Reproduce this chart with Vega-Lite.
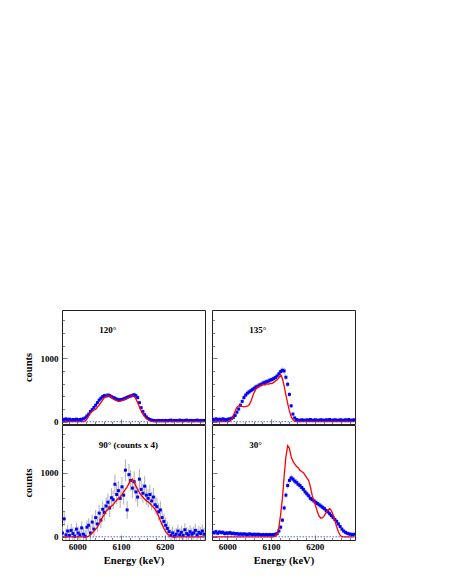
{
"$schema": "https://vega.github.io/schema/vega-lite/v6.json",
"background": "white",
"padding": {"left": 22, "top": 309, "right": 5, "bottom": 5},
"config": {
  "view": {"stroke": "#222", "strokeWidth": 1},
  "font": "Liberation Serif",
  "axis": {"domain": false, "grid": false, "tickColor": "#444", "tickWidth": 0.7, "minExtent": 0,
    "labelFont": "Liberation Serif", "labelFontWeight": "bold", "labelFontSize": 9, "labelColor": "#000",
    "labelOverlap": false, "labelFlush": false,
    "titleFont": "Liberation Serif", "titleFontWeight": "bold", "titleFontSize": 10.5, "titleColor": "#000"},
  "axisX": {"titlePadding": 4},
  "axisY": {"titlePadding": 7}
},
"datasets": {"d": [
{"p":"A","E":5966,"c":40,"e":20,"s":0},{"p":"A","E":5970,"c":35,"e":20,"s":0},{"p":"A","E":5974,"c":45,"e":20,"s":0},{"p":"A","E":5978,"c":30,"e":20,"s":0},{"p":"A","E":5982,"c":40,"e":20,"s":0},{"p":"A","E":5986,"c":25,"e":20,"s":0},{"p":"A","E":5990,"c":35,"e":20,"s":0},{"p":"A","E":5994,"c":30,"e":20,"s":0},{"p":"A","E":5998,"c":40,"e":20,"s":0},{"p":"A","E":6002,"c":30,"e":20,"s":0},{"p":"A","E":6006,"c":35,"e":20,"s":0},{"p":"A","E":6010,"c":40,"e":20,"s":0},{"p":"A","E":6014,"c":45,"e":20,"s":2},{"p":"A","E":6018,"c":60,"e":22,"s":10},{"p":"A","E":6022,"c":90,"e":24,"s":40},{"p":"A","E":6026,"c":120,"e":25,"s":90},{"p":"A","E":6030,"c":160,"e":26,"s":140},{"p":"A","E":6034,"c":190,"e":28,"s":165},{"p":"A","E":6038,"c":225,"e":28,"s":180},{"p":"A","E":6042,"c":260,"e":30,"s":195},{"p":"A","E":6046,"c":300,"e":30,"s":230},{"p":"A","E":6050,"c":340,"e":32,"s":260},{"p":"A","E":6054,"c":370,"e":32,"s":300},{"p":"A","E":6058,"c":395,"e":33,"s":345},{"p":"A","E":6062,"c":410,"e":34,"s":380},{"p":"A","E":6066,"c":405,"e":34,"s":400},{"p":"A","E":6070,"c":420,"e":34,"s":410},{"p":"A","E":6074,"c":410,"e":34,"s":405},{"p":"A","E":6078,"c":395,"e":33,"s":385},{"p":"A","E":6082,"c":380,"e":33,"s":360},{"p":"A","E":6086,"c":370,"e":33,"s":345},{"p":"A","E":6090,"c":355,"e":32,"s":330},{"p":"A","E":6094,"c":345,"e":32,"s":320},{"p":"A","E":6098,"c":345,"e":32,"s":325},{"p":"A","E":6102,"c":350,"e":32,"s":335},{"p":"A","E":6106,"c":360,"e":32,"s":345},{"p":"A","E":6110,"c":370,"e":33,"s":355},{"p":"A","E":6114,"c":385,"e":33,"s":370},{"p":"A","E":6118,"c":395,"e":33,"s":385},{"p":"A","E":6122,"c":405,"e":34,"s":405},{"p":"A","E":6126,"c":415,"e":34,"s":415},{"p":"A","E":6130,"c":425,"e":34,"s":400},{"p":"A","E":6134,"c":410,"e":34,"s":360},{"p":"A","E":6138,"c":380,"e":33,"s":300},{"p":"A","E":6142,"c":300,"e":30,"s":230},{"p":"A","E":6146,"c":220,"e":28,"s":170},{"p":"A","E":6150,"c":160,"e":26,"s":120},{"p":"A","E":6154,"c":110,"e":24,"s":80},{"p":"A","E":6158,"c":75,"e":22,"s":50},{"p":"A","E":6162,"c":50,"e":20,"s":30},{"p":"A","E":6166,"c":35,"e":20,"s":15},{"p":"A","E":6170,"c":25,"e":18,"s":5},{"p":"A","E":6174,"c":20,"e":18,"s":0},{"p":"A","E":6178,"c":15,"e":18,"s":0},{"p":"A","E":6182,"c":15,"e":18,"s":0},{"p":"A","E":6186,"c":20,"e":18,"s":0},{"p":"A","E":6190,"c":15,"e":18,"s":0},{"p":"A","E":6194,"c":20,"e":18,"s":0},{"p":"A","E":6198,"c":15,"e":18,"s":0},{"p":"A","E":6202,"c":20,"e":18,"s":0},{"p":"A","E":6206,"c":15,"e":18,"s":0},{"p":"A","E":6210,"c":20,"e":18,"s":0},{"p":"A","E":6214,"c":25,"e":18,"s":0},{"p":"A","E":6218,"c":15,"e":18,"s":0},{"p":"A","E":6222,"c":20,"e":18,"s":0},{"p":"A","E":6226,"c":20,"e":18,"s":0},{"p":"A","E":6230,"c":15,"e":18,"s":0},{"p":"A","E":6234,"c":25,"e":18,"s":0},{"p":"A","E":6238,"c":20,"e":18,"s":0},{"p":"A","E":6242,"c":15,"e":18,"s":0},{"p":"A","E":6246,"c":20,"e":18,"s":0},{"p":"A","E":6250,"c":25,"e":18,"s":0},{"p":"A","E":6254,"c":15,"e":18,"s":0},{"p":"A","E":6258,"c":20,"e":18,"s":0},{"p":"A","E":6262,"c":20,"e":18,"s":0},{"p":"A","E":6266,"c":15,"e":18,"s":0},{"p":"A","E":6270,"c":20,"e":18,"s":0},{"p":"A","E":6274,"c":25,"e":18,"s":0},{"p":"A","E":6278,"c":15,"e":18,"s":0},{"p":"A","E":6282,"c":20,"e":18,"s":0},{"p":"A","E":6286,"c":15,"e":18,"s":0},{"p":"A","E":6290,"c":20,"e":18,"s":0},
{"p":"B","E":5966,"c":40,"e":20,"s":0},{"p":"B","E":5970,"c":30,"e":20,"s":0},{"p":"B","E":5974,"c":45,"e":20,"s":0},{"p":"B","E":5978,"c":35,"e":20,"s":0},{"p":"B","E":5982,"c":40,"e":20,"s":0},{"p":"B","E":5986,"c":30,"e":20,"s":0},{"p":"B","E":5990,"c":45,"e":20,"s":0},{"p":"B","E":5994,"c":35,"e":20,"s":0},{"p":"B","E":5998,"c":30,"e":20,"s":0},{"p":"B","E":6002,"c":40,"e":20,"s":0},{"p":"B","E":6006,"c":45,"e":20,"s":10},{"p":"B","E":6010,"c":55,"e":22,"s":40},{"p":"B","E":6014,"c":70,"e":24,"s":100},{"p":"B","E":6018,"c":100,"e":25,"s":170},{"p":"B","E":6022,"c":150,"e":26,"s":225},{"p":"B","E":6026,"c":200,"e":28,"s":250},{"p":"B","E":6030,"c":260,"e":30,"s":250},{"p":"B","E":6034,"c":320,"e":32,"s":240},{"p":"B","E":6038,"c":380,"e":34,"s":235},{"p":"B","E":6042,"c":420,"e":35,"s":240},{"p":"B","E":6046,"c":450,"e":36,"s":245},{"p":"B","E":6050,"c":470,"e":37,"s":265},{"p":"B","E":6054,"c":490,"e":38,"s":320},{"p":"B","E":6058,"c":510,"e":38,"s":400},{"p":"B","E":6062,"c":530,"e":39,"s":470},{"p":"B","E":6066,"c":550,"e":40,"s":520},{"p":"B","E":6070,"c":560,"e":40,"s":545},{"p":"B","E":6074,"c":580,"e":41,"s":560},{"p":"B","E":6078,"c":590,"e":41,"s":575},{"p":"B","E":6082,"c":610,"e":42,"s":590},{"p":"B","E":6086,"c":620,"e":42,"s":580},{"p":"B","E":6090,"c":630,"e":43,"s":600},{"p":"B","E":6094,"c":640,"e":43,"s":590},{"p":"B","E":6098,"c":655,"e":44,"s":605},{"p":"B","E":6102,"c":665,"e":44,"s":600},{"p":"B","E":6106,"c":680,"e":45,"s":620},{"p":"B","E":6110,"c":695,"e":45,"s":640},{"p":"B","E":6114,"c":720,"e":46,"s":660},{"p":"B","E":6118,"c":755,"e":47,"s":690},{"p":"B","E":6122,"c":790,"e":48,"s":740},{"p":"B","E":6126,"c":810,"e":48,"s":680},{"p":"B","E":6130,"c":800,"e":48,"s":560},{"p":"B","E":6134,"c":700,"e":45,"s":420},{"p":"B","E":6138,"c":590,"e":42,"s":290},{"p":"B","E":6142,"c":430,"e":36,"s":170},{"p":"B","E":6146,"c":250,"e":30,"s":80},{"p":"B","E":6150,"c":120,"e":25,"s":30},{"p":"B","E":6154,"c":60,"e":22,"s":10},{"p":"B","E":6158,"c":35,"e":20,"s":0},{"p":"B","E":6162,"c":25,"e":20,"s":0},{"p":"B","E":6166,"c":20,"e":20,"s":0},{"p":"B","E":6170,"c":30,"e":20,"s":0},{"p":"B","E":6174,"c":25,"e":20,"s":0},{"p":"B","E":6178,"c":20,"e":20,"s":0},{"p":"B","E":6182,"c":30,"e":20,"s":0},{"p":"B","E":6186,"c":25,"e":20,"s":0},{"p":"B","E":6190,"c":35,"e":20,"s":0},{"p":"B","E":6194,"c":20,"e":20,"s":0},{"p":"B","E":6198,"c":25,"e":20,"s":0},{"p":"B","E":6202,"c":30,"e":20,"s":0},{"p":"B","E":6206,"c":20,"e":20,"s":0},{"p":"B","E":6210,"c":25,"e":20,"s":0},{"p":"B","E":6214,"c":30,"e":20,"s":0},{"p":"B","E":6218,"c":25,"e":20,"s":0},{"p":"B","E":6222,"c":20,"e":20,"s":0},{"p":"B","E":6226,"c":30,"e":20,"s":0},{"p":"B","E":6230,"c":25,"e":20,"s":0},{"p":"B","E":6234,"c":35,"e":20,"s":0},{"p":"B","E":6238,"c":20,"e":20,"s":0},{"p":"B","E":6242,"c":25,"e":20,"s":0},{"p":"B","E":6246,"c":30,"e":20,"s":0},{"p":"B","E":6250,"c":25,"e":20,"s":0},{"p":"B","E":6254,"c":20,"e":20,"s":0},{"p":"B","E":6258,"c":30,"e":20,"s":0},{"p":"B","E":6262,"c":25,"e":20,"s":0},{"p":"B","E":6266,"c":20,"e":20,"s":0},{"p":"B","E":6270,"c":30,"e":20,"s":0},{"p":"B","E":6274,"c":25,"e":20,"s":0},{"p":"B","E":6278,"c":35,"e":20,"s":0},{"p":"B","E":6282,"c":20,"e":20,"s":0},{"p":"B","E":6286,"c":25,"e":20,"s":0},{"p":"B","E":6290,"c":30,"e":20,"s":0},
{"p":"C","E":5966,"c":60,"e":100,"s":0},{"p":"C","E":5970,"c":280,"e":110,"s":0},{"p":"C","E":5974,"c":30,"e":100,"s":0},{"p":"C","E":5978,"c":90,"e":100,"s":0},{"p":"C","E":5982,"c":20,"e":100,"s":0},{"p":"C","E":5986,"c":100,"e":100,"s":0},{"p":"C","E":5990,"c":50,"e":100,"s":0},{"p":"C","E":5994,"c":10,"e":100,"s":0},{"p":"C","E":5998,"c":120,"e":100,"s":0},{"p":"C","E":6002,"c":60,"e":100,"s":0},{"p":"C","E":6006,"c":30,"e":100,"s":0},{"p":"C","E":6010,"c":140,"e":100,"s":0},{"p":"C","E":6014,"c":40,"e":100,"s":0},{"p":"C","E":6018,"c":10,"e":100,"s":0},{"p":"C","E":6022,"c":150,"e":105,"s":0},{"p":"C","E":6026,"c":180,"e":110,"s":10},{"p":"C","E":6030,"c":60,"e":110,"s":30},{"p":"C","E":6034,"c":230,"e":115,"s":60},{"p":"C","E":6038,"c":120,"e":115,"s":90},{"p":"C","E":6042,"c":300,"e":120,"s":120},{"p":"C","E":6046,"c":200,"e":120,"s":150},{"p":"C","E":6050,"c":370,"e":125,"s":200},{"p":"C","E":6054,"c":260,"e":125,"s":260},{"p":"C","E":6058,"c":430,"e":130,"s":310},{"p":"C","E":6062,"c":380,"e":130,"s":350},{"p":"C","E":6066,"c":480,"e":135,"s":400},{"p":"C","E":6070,"c":540,"e":140,"s":430},{"p":"C","E":6074,"c":450,"e":140,"s":460},{"p":"C","E":6078,"c":610,"e":145,"s":480},{"p":"C","E":6082,"c":580,"e":145,"s":500},{"p":"C","E":6086,"c":820,"e":155,"s":540},{"p":"C","E":6090,"c":660,"e":150,"s":570},{"p":"C","E":6094,"c":720,"e":150,"s":600},{"p":"C","E":6098,"c":600,"e":150,"s":620},{"p":"C","E":6102,"c":780,"e":155,"s":660},{"p":"C","E":6106,"c":650,"e":150,"s":700},{"p":"C","E":6110,"c":1040,"e":170,"s":740},{"p":"C","E":6114,"c":420,"e":140,"s":780},{"p":"C","E":6118,"c":970,"e":165,"s":830},{"p":"C","E":6122,"c":880,"e":160,"s":880},{"p":"C","E":6126,"c":760,"e":155,"s":900},{"p":"C","E":6130,"c":860,"e":160,"s":860},{"p":"C","E":6134,"c":700,"e":150,"s":790},{"p":"C","E":6138,"c":620,"e":150,"s":740},{"p":"C","E":6142,"c":900,"e":160,"s":690},{"p":"C","E":6146,"c":740,"e":155,"s":650},{"p":"C","E":6150,"c":680,"e":150,"s":620},{"p":"C","E":6154,"c":790,"e":155,"s":590},{"p":"C","E":6158,"c":650,"e":150,"s":560},{"p":"C","E":6162,"c":600,"e":145,"s":545},{"p":"C","E":6166,"c":660,"e":150,"s":520},{"p":"C","E":6170,"c":560,"e":145,"s":490},{"p":"C","E":6174,"c":620,"e":145,"s":460},{"p":"C","E":6178,"c":500,"e":140,"s":430},{"p":"C","E":6182,"c":470,"e":140,"s":380},{"p":"C","E":6186,"c":390,"e":135,"s":320},{"p":"C","E":6190,"c":420,"e":135,"s":250},{"p":"C","E":6194,"c":300,"e":125,"s":190},{"p":"C","E":6198,"c":240,"e":120,"s":130},{"p":"C","E":6202,"c":180,"e":115,"s":80},{"p":"C","E":6206,"c":130,"e":110,"s":45},{"p":"C","E":6210,"c":80,"e":105,"s":20},{"p":"C","E":6214,"c":20,"e":100,"s":5},{"p":"C","E":6218,"c":60,"e":100,"s":0},{"p":"C","E":6222,"c":10,"e":100,"s":0},{"p":"C","E":6226,"c":40,"e":100,"s":0},{"p":"C","E":6230,"c":90,"e":100,"s":0},{"p":"C","E":6234,"c":30,"e":100,"s":0},{"p":"C","E":6238,"c":70,"e":100,"s":0},{"p":"C","E":6242,"c":20,"e":100,"s":0},{"p":"C","E":6246,"c":110,"e":100,"s":0},{"p":"C","E":6250,"c":50,"e":100,"s":0},{"p":"C","E":6254,"c":30,"e":100,"s":0},{"p":"C","E":6258,"c":80,"e":100,"s":0},{"p":"C","E":6262,"c":40,"e":100,"s":0},{"p":"C","E":6266,"c":60,"e":100,"s":0},{"p":"C","E":6270,"c":100,"e":100,"s":0},{"p":"C","E":6274,"c":30,"e":100,"s":0},{"p":"C","E":6278,"c":70,"e":100,"s":0},{"p":"C","E":6282,"c":50,"e":100,"s":0},{"p":"C","E":6286,"c":90,"e":100,"s":0},{"p":"C","E":6290,"c":40,"e":100,"s":0},
{"p":"D","E":5966,"c":70,"e":35,"s":0},{"p":"D","E":5970,"c":60,"e":35,"s":0},{"p":"D","E":5974,"c":80,"e":35,"s":0},{"p":"D","E":5978,"c":55,"e":35,"s":0},{"p":"D","E":5982,"c":75,"e":35,"s":0},{"p":"D","E":5986,"c":65,"e":35,"s":0},{"p":"D","E":5990,"c":70,"e":35,"s":0},{"p":"D","E":5994,"c":50,"e":35,"s":0},{"p":"D","E":5998,"c":60,"e":35,"s":0},{"p":"D","E":6002,"c":55,"e":35,"s":0},{"p":"D","E":6006,"c":65,"e":35,"s":0},{"p":"D","E":6010,"c":50,"e":35,"s":0},{"p":"D","E":6014,"c":55,"e":35,"s":0},{"p":"D","E":6018,"c":45,"e":32,"s":0},{"p":"D","E":6022,"c":50,"e":32,"s":0},{"p":"D","E":6026,"c":40,"e":30,"s":0},{"p":"D","E":6030,"c":45,"e":30,"s":0},{"p":"D","E":6034,"c":40,"e":30,"s":0},{"p":"D","E":6038,"c":45,"e":30,"s":0},{"p":"D","E":6042,"c":40,"e":30,"s":0},{"p":"D","E":6046,"c":35,"e":30,"s":0},{"p":"D","E":6050,"c":45,"e":30,"s":0},{"p":"D","E":6054,"c":40,"e":30,"s":0},{"p":"D","E":6058,"c":35,"e":30,"s":0},{"p":"D","E":6062,"c":40,"e":30,"s":0},{"p":"D","E":6066,"c":35,"e":30,"s":0},{"p":"D","E":6070,"c":40,"e":30,"s":0},{"p":"D","E":6074,"c":35,"e":30,"s":0},{"p":"D","E":6078,"c":30,"e":30,"s":0},{"p":"D","E":6082,"c":35,"e":30,"s":0},{"p":"D","E":6086,"c":30,"e":30,"s":0},{"p":"D","E":6090,"c":35,"e":30,"s":0},{"p":"D","E":6094,"c":30,"e":30,"s":0},{"p":"D","E":6098,"c":35,"e":30,"s":0},{"p":"D","E":6102,"c":30,"e":30,"s":0},{"p":"D","E":6106,"c":35,"e":30,"s":0},{"p":"D","E":6110,"c":40,"e":30,"s":10},{"p":"D","E":6114,"c":50,"e":30,"s":40},{"p":"D","E":6118,"c":90,"e":32,"s":150},{"p":"D","E":6122,"c":150,"e":34,"s":350},{"p":"D","E":6126,"c":260,"e":38,"s":600},{"p":"D","E":6130,"c":450,"e":42,"s":950},{"p":"D","E":6134,"c":650,"e":46,"s":1250},{"p":"D","E":6138,"c":800,"e":50,"s":1420},{"p":"D","E":6142,"c":880,"e":52,"s":1380},{"p":"D","E":6146,"c":920,"e":52,"s":1250},{"p":"D","E":6150,"c":900,"e":52,"s":1180},{"p":"D","E":6154,"c":870,"e":52,"s":1140},{"p":"D","E":6158,"c":850,"e":50,"s":1100},{"p":"D","E":6162,"c":820,"e":50,"s":1080},{"p":"D","E":6166,"c":800,"e":50,"s":1040},{"p":"D","E":6170,"c":770,"e":48,"s":1020},{"p":"D","E":6174,"c":740,"e":48,"s":1000},{"p":"D","E":6178,"c":700,"e":47,"s":960},{"p":"D","E":6182,"c":670,"e":46,"s":920},{"p":"D","E":6186,"c":640,"e":45,"s":880},{"p":"D","E":6190,"c":600,"e":44,"s":780},{"p":"D","E":6194,"c":580,"e":43,"s":650},{"p":"D","E":6198,"c":560,"e":42,"s":560},{"p":"D","E":6202,"c":540,"e":42,"s":480},{"p":"D","E":6206,"c":520,"e":41,"s":390},{"p":"D","E":6210,"c":500,"e":40,"s":320},{"p":"D","E":6214,"c":480,"e":40,"s":290},{"p":"D","E":6218,"c":460,"e":39,"s":300},{"p":"D","E":6222,"c":440,"e":38,"s":330},{"p":"D","E":6226,"c":410,"e":37,"s":380},{"p":"D","E":6230,"c":390,"e":36,"s":420},{"p":"D","E":6234,"c":360,"e":35,"s":440},{"p":"D","E":6238,"c":330,"e":34,"s":410},{"p":"D","E":6242,"c":300,"e":33,"s":340},{"p":"D","E":6246,"c":270,"e":32,"s":250},{"p":"D","E":6250,"c":240,"e":31,"s":160},{"p":"D","E":6254,"c":200,"e":30,"s":80},{"p":"D","E":6258,"c":160,"e":28,"s":25},{"p":"D","E":6262,"c":120,"e":26,"s":0},{"p":"D","E":6266,"c":90,"e":25,"s":0},{"p":"D","E":6270,"c":70,"e":24,"s":0},{"p":"D","E":6274,"c":55,"e":24,"s":0},{"p":"D","E":6278,"c":45,"e":24,"s":0},{"p":"D","E":6282,"c":40,"e":24,"s":0},{"p":"D","E":6286,"c":35,"e":24,"s":0},{"p":"D","E":6290,"c":40,"e":24,"s":0}
]},
"columns": 2,
"align": "each",
"bounds": "flush",
"spacing": {"row": 1, "column": 7},
"concat": [
 {"width": 143, "height": 114, "resolve": {"axis": {"x": "independent", "y": "independent"}},
  "layer": [
   {"data": {"name": "d"}, "transform": [{"filter": "datum.p == 'A'"}],
    "mark": {"type": "errorbar", "color": "#9a9a9a", "thickness": 0.8, "clip": true},
    "encoding": {"x": {"field": "E", "type": "quantitative", "scale": {"domain": [5965, 6292], "nice": false, "zero": false}, "axis": {"orient": "bottom", "values": [6000, 6100, 6200], "tickSize": -5, "labels": false, "title": null}},
     "y": {"field": "c", "type": "quantitative", "scale": {"domain": [-36, 1760], "nice": false, "zero": false}, "axis": {"orient": "left", "values": [0, 1000], "format": "d", "tickSize": -5, "labelPadding": 9, "title": "counts"}},
     "yError": {"field": "e"}}},
   {"data": {"name": "d"}, "transform": [{"filter": "datum.p == 'A'"}],
    "mark": {"type": "square", "color": "#0000ff", "size": 9, "opacity": 1, "clip": true},
    "encoding": {"x": {"field": "E", "type": "quantitative", "axis": {"orient": "bottom", "values": [5980,6020,6040,6060,6080,6120,6140,6160,6180,6220,6240,6260,6280], "tickSize": -2.5, "labels": false, "title": null}},
     "y": {"field": "c", "type": "quantitative", "axis": {"orient": "left", "values": [200,400,600,800,1200,1400,1600], "tickSize": -2.5, "labels": false, "title": null}}}},
   {"data": {"name": "d"}, "transform": [{"filter": "datum.p == 'A'"}],
    "mark": {"type": "line", "color": "#ff0000", "strokeWidth": 1.3, "clip": true},
    "encoding": {"x": {"field": "E", "type": "quantitative", "axis": null}, "y": {"field": "s", "type": "quantitative", "axis": null}}},
   {"data": {"values": [{"p": "A", "label": "120°"}]},
    "mark": {"type": "rule", "color": "#3030ff", "strokeDash": [1.5, 1.5], "strokeWidth": 0.8}, "encoding": {"y": {"datum": 0, "axis": null}}},
   {"data": {"values": [{"p": "A", "label": "120°"}]},
    "mark": {"type": "text", "align": "left", "baseline": "middle", "fontSize": 9, "fontWeight": "bold", "font": "Liberation Serif", "fill": "#000"},
    "encoding": {"x": {"datum": 6050, "axis": null}, "y": {"datum": 1440, "axis": null}, "text": {"field": "label"}}}
  ]},
 {"width": 143, "height": 114, "resolve": {"axis": {"x": "independent", "y": "independent"}},
  "layer": [
   {"data": {"name": "d"}, "transform": [{"filter": "datum.p == 'B'"}],
    "mark": {"type": "errorbar", "color": "#9a9a9a", "thickness": 0.8, "clip": true},
    "encoding": {"x": {"field": "E", "type": "quantitative", "scale": {"domain": [5965, 6292], "nice": false, "zero": false}, "axis": {"orient": "bottom", "values": [6000, 6100, 6200], "tickSize": -5, "labels": false, "title": null}},
     "y": {"field": "c", "type": "quantitative", "scale": {"domain": [-36, 1760], "nice": false, "zero": false}, "axis": {"orient": "left", "values": [0, 1000], "tickSize": -5, "labels": false, "title": null}},
     "yError": {"field": "e"}}},
   {"data": {"name": "d"}, "transform": [{"filter": "datum.p == 'B'"}],
    "mark": {"type": "square", "color": "#0000ff", "size": 9, "opacity": 1, "clip": true},
    "encoding": {"x": {"field": "E", "type": "quantitative", "axis": {"orient": "bottom", "values": [5980,6020,6040,6060,6080,6120,6140,6160,6180,6220,6240,6260,6280], "tickSize": -2.5, "labels": false, "title": null}},
     "y": {"field": "c", "type": "quantitative", "axis": {"orient": "left", "values": [200,400,600,800,1200,1400,1600], "tickSize": -2.5, "labels": false, "title": null}}}},
   {"data": {"name": "d"}, "transform": [{"filter": "datum.p == 'B'"}],
    "mark": {"type": "line", "color": "#ff0000", "strokeWidth": 1.3, "clip": true},
    "encoding": {"x": {"field": "E", "type": "quantitative", "axis": null}, "y": {"field": "s", "type": "quantitative", "axis": null}}},
   {"data": {"values": [{"p": "B", "label": "135°"}]},
    "mark": {"type": "rule", "color": "#3030ff", "strokeDash": [1.5, 1.5], "strokeWidth": 0.8}, "encoding": {"y": {"datum": 0, "axis": null}}},
   {"data": {"values": [{"p": "B", "label": "135°"}]},
    "mark": {"type": "text", "align": "left", "baseline": "middle", "fontSize": 9, "fontWeight": "bold", "font": "Liberation Serif", "fill": "#000"},
    "encoding": {"x": {"datum": 6050, "axis": null}, "y": {"datum": 1440, "axis": null}, "text": {"field": "label"}}}
  ]},
 {"width": 143, "height": 115, "resolve": {"axis": {"x": "independent", "y": "independent"}},
  "layer": [
   {"data": {"name": "d"}, "transform": [{"filter": "datum.p == 'C'"}],
    "mark": {"type": "errorbar", "color": "#9a9a9a", "thickness": 0.8, "clip": true},
    "encoding": {"x": {"field": "E", "type": "quantitative", "scale": {"domain": [5965, 6292], "nice": false, "zero": false}, "axis": {"orient": "bottom", "values": [6000, 6100, 6200], "format": "d", "tickSize": -5, "labelPadding": 7.5, "title": "Energy (keV)"}},
     "y": {"field": "c", "type": "quantitative", "scale": {"domain": [-50, 1745], "nice": false, "zero": false}, "axis": {"orient": "left", "values": [0, 1000], "format": "d", "tickSize": -5, "labelPadding": 9, "title": "counts"}},
     "yError": {"field": "e"}}},
   {"data": {"name": "d"}, "transform": [{"filter": "datum.p == 'C'"}],
    "mark": {"type": "square", "color": "#0000ff", "size": 9, "opacity": 1, "clip": true},
    "encoding": {"x": {"field": "E", "type": "quantitative", "axis": {"orient": "bottom", "values": [5980,6020,6040,6060,6080,6120,6140,6160,6180,6220,6240,6260,6280], "tickSize": -2.5, "labels": false, "title": null}},
     "y": {"field": "c", "type": "quantitative", "axis": {"orient": "left", "values": [200,400,600,800,1200,1400,1600], "tickSize": -2.5, "labels": false, "title": null}}}},
   {"data": {"name": "d"}, "transform": [{"filter": "datum.p == 'C'"}],
    "mark": {"type": "line", "color": "#ff0000", "strokeWidth": 1.3, "clip": true},
    "encoding": {"x": {"field": "E", "type": "quantitative", "axis": null}, "y": {"field": "s", "type": "quantitative", "axis": null}}},
   {"data": {"values": [{"p": "C", "label": "90° (counts x 4)"}]},
    "mark": {"type": "rule", "color": "#3030ff", "strokeDash": [1.5, 1.5], "strokeWidth": 0.8}, "encoding": {"y": {"datum": 0, "axis": null}}},
   {"data": {"values": [{"p": "C", "label": "90° (counts x 4)"}]},
    "mark": {"type": "text", "align": "left", "baseline": "middle", "fontSize": 9, "fontWeight": "bold", "font": "Liberation Serif", "fill": "#000"},
    "encoding": {"x": {"datum": 6049, "axis": null}, "y": {"datum": 1435, "axis": null}, "text": {"field": "label"}}}
  ]},
 {"width": 143, "height": 115, "resolve": {"axis": {"x": "independent", "y": "independent"}},
  "layer": [
   {"data": {"name": "d"}, "transform": [{"filter": "datum.p == 'D'"}],
    "mark": {"type": "errorbar", "color": "#9a9a9a", "thickness": 0.8, "clip": true},
    "encoding": {"x": {"field": "E", "type": "quantitative", "scale": {"domain": [5965, 6292], "nice": false, "zero": false}, "axis": {"orient": "bottom", "values": [6000, 6100, 6200], "format": "d", "tickSize": -5, "labelPadding": 7.5, "title": "Energy (keV)"}},
     "y": {"field": "c", "type": "quantitative", "scale": {"domain": [-50, 1745], "nice": false, "zero": false}, "axis": {"orient": "left", "values": [0, 1000], "tickSize": -5, "labels": false, "title": null}},
     "yError": {"field": "e"}}},
   {"data": {"name": "d"}, "transform": [{"filter": "datum.p == 'D'"}],
    "mark": {"type": "square", "color": "#0000ff", "size": 9, "opacity": 1, "clip": true},
    "encoding": {"x": {"field": "E", "type": "quantitative", "axis": {"orient": "bottom", "values": [5980,6020,6040,6060,6080,6120,6140,6160,6180,6220,6240,6260,6280], "tickSize": -2.5, "labels": false, "title": null}},
     "y": {"field": "c", "type": "quantitative", "axis": {"orient": "left", "values": [200,400,600,800,1200,1400,1600], "tickSize": -2.5, "labels": false, "title": null}}}},
   {"data": {"name": "d"}, "transform": [{"filter": "datum.p == 'D'"}],
    "mark": {"type": "line", "color": "#ff0000", "strokeWidth": 1.3, "clip": true},
    "encoding": {"x": {"field": "E", "type": "quantitative", "axis": null}, "y": {"field": "s", "type": "quantitative", "axis": null}}},
   {"data": {"values": [{"p": "D", "label": "30°"}]},
    "mark": {"type": "rule", "color": "#3030ff", "strokeDash": [1.5, 1.5], "strokeWidth": 0.8}, "encoding": {"y": {"datum": 0, "axis": null}}},
   {"data": {"values": [{"p": "D", "label": "30°"}]},
    "mark": {"type": "text", "align": "left", "baseline": "middle", "fontSize": 9, "fontWeight": "bold", "font": "Liberation Serif", "fill": "#000"},
    "encoding": {"x": {"datum": 6050, "axis": null}, "y": {"datum": 1435, "axis": null}, "text": {"field": "label"}}}
  ]}
]
}
